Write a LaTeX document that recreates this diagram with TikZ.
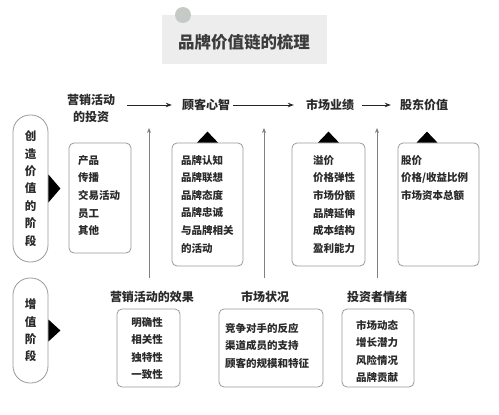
\documentclass[tikz,border=0pt]{standalone}
\usepackage{fontspec}
\setmainfont{Noto Sans CJK SC}
\newfontfamily\cjk{Noto Sans CJK SC}
\usetikzlibrary{arrows.meta}
\definecolor{txt}{HTML}{2A2A2A}
\definecolor{boxgray}{HTML}{9A9A9A}
\definecolor{titlebg}{HTML}{EDEDED}
\definecolor{dotgray}{HTML}{C6CAC7}
\definecolor{titletxt}{HTML}{3C3C3C}
\begin{document}
\begin{tikzpicture}[x=1pt,y=-1pt,
  box/.style={draw=boxgray, line width=0.8pt, rounded corners=5pt, fill=white, inner sep=0},
  stad/.style={draw=boxgray, line width=0.8pt, rounded corners=17pt, minimum width=35pt, inner sep=0, align=center, text=txt, font=\cjk\bfseries\fontsize{11.5}{17.4}\selectfont},
  btxt/.style={inner sep=0, anchor=north west, align=left, text=txt, font=\cjk\bfseries\fontsize{10.5}{17.6}\selectfont},
  ctxt/.style={inner sep=0, anchor=north, align=center, text=txt, font=\cjk\bfseries\fontsize{10.5}{17.5}\selectfont},
  head/.style={inner sep=0, align=center, text=txt, font=\cjk\bfseries\fontsize{12}{17}\selectfont},
  harrow/.style={-{Stealth[length=6pt,width=4.5pt]}, line width=0.8pt, draw=black!85},
  varrow/.style={-{Stealth[length=5pt,width=4pt]}, line width=0.8pt, draw=gray},
  tri/.style={fill=black}
]
\fill[white] (0,0) rectangle (499,415);
\useasboundingbox (0,0) rectangle (499,415);

% title
\node[fill=titlebg, minimum width=165pt, minimum height=49pt, inner sep=0] (tb) at (244.5,39.5) {};
\node[circle, fill=dotgray, minimum size=16pt, inner sep=0] (dot) at (183,15) {};
\node[inner sep=0, text=titletxt, font=\cjk\bfseries\fontsize{16.5}{18}\selectfont] (title) at (244,42) {品牌价值链的梳理};

% headers
\node[head] (h1) at (91,108.5) {营销活动\\的投资};
\node[head] (h2) at (206,105) {顾客心智};
\node[head] (h3) at (330,105) {市场业绩};
\node[head] (h4) at (424,105) {股东价值};
\draw[harrow] ([xshift=12pt]h1.east |- h2.west) -- ([xshift=-10pt]h2.west);
\draw[harrow] ([xshift=3pt]h2.east) -- ([xshift=-12pt]h3.west);
\draw[harrow] ([xshift=8pt]h3.east) -- ([xshift=-9pt]h4.west);

% stage stadiums
\node[stad, minimum height=147pt] (s1) at (30.5,188.5) {创\\造\\价\\值\\的\\阶\\段};
\node[stad, minimum height=105pt] (s2) at (30.5,330.5) {增\\值\\阶\\段};
\fill[tri] ([yshift=14pt]s1.east) -- ([yshift=-14pt]s1.east) -- ([xshift=12pt]s1.east) -- cycle;
\fill[tri] ([yshift=11pt]s2.east) -- ([yshift=-11pt]s2.east) -- ([xshift=12pt]s2.east) -- cycle;

% upper boxes
\node[box, minimum width=62pt, minimum height=110pt] (b1) at (100,198) {};
\node[box, minimum width=71pt, minimum height=123pt] (b2) at (207.5,204.5) {};
\node[box, minimum width=73pt, minimum height=123pt] (b3) at (328.5,204.5) {};
\node[box, minimum width=81pt, minimum height=123pt] (b4) at (438.5,204.5) {};
\node[btxt] (t1) at (78,155) {产品\\传播\\交易活动\\员工\\其他};
\node[btxt] (t2) at (181,155) {品牌认知\\品牌联想\\品牌态度\\品牌忠诚\\与品牌相关\\的活动};
\node[btxt] (t3) at (313,155) {溢价\\价格弹性\\市场份额\\品牌延伸\\成本结构\\盈利能力};
\node[btxt] (t4) at (401,155) {股价\\价格/收益比例\\市场资本总额};
\fill[tri] ([xshift=-10.5pt]b2.north) -- ([xshift=10.5pt]b2.north) -- ([yshift=11pt]b2.north) -- cycle;
\fill[tri] ([xshift=-10.5pt]b3.north) -- ([xshift=10.5pt]b3.north) -- ([yshift=11pt]b3.north) -- cycle;
\fill[tri] ([xshift=-22pt]b4.north) -- ([xshift=-1pt]b4.north) -- ([xshift=-11.5pt,yshift=11pt]b4.north) -- cycle;

% bottom labels
\node[head] (l1) at (152,297) {营销活动的效果};
\node[head] (l2) at (265,297) {市场状况};
\node[head] (l3) at (377,297) {投资者情绪};
\coordinate (a1) at (149,128);
\coordinate (a2) at (264,128);
\coordinate (a3) at (377,128);
\draw[varrow] ([yshift=13pt]l1.north -| a1) -- (a1);
\draw[varrow] ([yshift=13pt]l2.north -| a2) -- (a2);
\draw[varrow] ([yshift=13pt]l3.north -| a3) -- (a3);

% bottom boxes
\node[box, minimum width=63pt, minimum height=78pt] (b5) at (148.5,348) {};
\node[box, minimum width=104pt, minimum height=78pt] (b6) at (271,348) {};
\node[box, minimum width=72pt, minimum height=78pt] (b7) at (378,348) {};
\node[ctxt] (t5) at (147,317) {明确性\\相关性\\独特性\\一致性};
\node[btxt] (t6) at (225,323) {竞争对手的反应\\渠道成员的支持\\顾客的规模和特征};
\node[ctxt] (t7) at (377,320) {市场动态\\增长潜力\\风险情况\\品牌贡献};
\end{tikzpicture}
\end{document}
